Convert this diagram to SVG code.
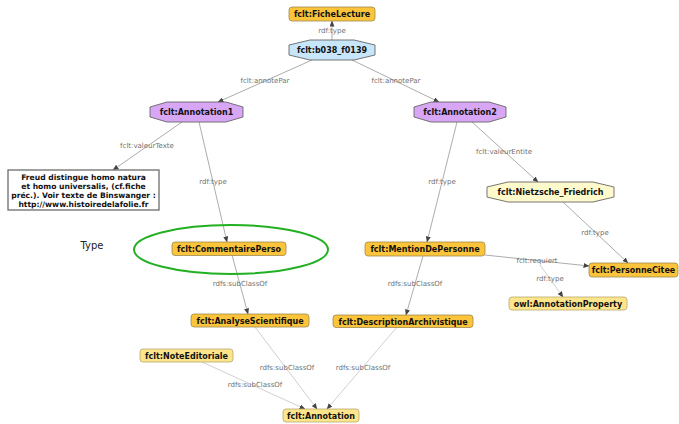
<svg xmlns="http://www.w3.org/2000/svg" width="679" height="424" viewBox="0 0 679 424">
<style>
.nt{font-family:"DejaVu Sans",sans-serif;font-size:8px;font-weight:bold;fill:#111;text-anchor:middle}
.tx{font-family:"DejaVu Sans",sans-serif;font-size:7.6px;font-weight:bold;fill:#111;text-anchor:middle}
.lb{font-family:"DejaVu Sans",sans-serif;font-size:7px;fill:#707070;text-anchor:middle}
.e{stroke:#888;stroke-width:0.7;fill:none;marker-end:url(#ah)}
.el{stroke:#bbb;stroke-width:0.7;fill:none;marker-end:url(#ah)}
.or{fill:#fbc43a;stroke:#a08a50;stroke-width:0.8}
.ly{fill:#fde58c;stroke:#b8a870;stroke-width:0.8}
.oct{stroke:#666;stroke-width:0.9}
</style>
<defs>
<marker id="ah" markerUnits="userSpaceOnUse" markerWidth="6" markerHeight="5" refX="5.5" refY="2.5" orient="auto">
<path d="M0,0 L6,2.5 L0,5 z" fill="#444"/>
</marker>
</defs>
<rect width="679" height="424" fill="#fff"/>
<g id="connectors">
<line class="e" x1="332" y1="40" x2="332" y2="21"/>
<text class="lb" x="332" y="33">rdf:type</text>
<line class="e" x1="312" y1="60" x2="218" y2="102"/>
<text class="lb" x="265" y="83">fclt:annotePar</text>
<line class="e" x1="352" y1="60" x2="439" y2="102"/>
<text class="lb" x="396" y="83">fclt:annotePar</text>
<line class="e" x1="182" y1="122" x2="113" y2="170"/>
<text class="lb" x="147" y="148">fclt:valeurTexte</text>
<line class="e" x1="199" y1="122" x2="227" y2="242"/>
<text class="lb" x="213" y="184">rdf:type</text>
<line class="e" x1="457" y1="122" x2="427" y2="242"/>
<text class="lb" x="442" y="184">rdf:type</text>
<line class="e" x1="472" y1="122" x2="538" y2="182"/>
<text class="lb" x="504" y="154">fclt:valeurEntite</text>
<line class="e" x1="563" y1="202" x2="628" y2="263"/>
<text class="lb" x="595" y="235">rdf:type</text>
<line class="e" x1="485" y1="255" x2="589" y2="266"/>
<text class="lb" x="537" y="263">fclt:requiert</text>
<line class="el" x1="540" y1="265" x2="563" y2="297"/>
<text class="lb" x="550" y="281">rdf:type</text>
<line class="e" x1="232" y1="255" x2="248" y2="314"/>
<text class="lb" x="240" y="286">rdfs:subClassOf</text>
<line class="e" x1="423" y1="256" x2="406" y2="315"/>
<text class="lb" x="415" y="286">rdfs:subClassOf</text>
<line class="el" x1="255" y1="327" x2="317" y2="409"/>
<text class="lb" x="287" y="370">rdfs:subClassOf</text>
<line class="el" x1="397" y1="327" x2="327" y2="409"/>
<text class="lb" x="363" y="370">rdfs:subClassOf</text>
<line class="el" x1="202" y1="362" x2="305" y2="409"/>
<text class="lb" x="255" y="387">rdfs:subClassOf</text>
</g>
<g id="type-label">
<text x="92" y="249" style="font-family:'DejaVu Sans',sans-serif;font-size:10px;fill:#222;text-anchor:middle">Type</text>
<ellipse cx="231" cy="249.5" rx="97" ry="24.5" fill="none" stroke="#22b022" stroke-width="2"/>
</g>
<g id="n-fichelecture">
<rect class="or" x="289" y="7" width="86" height="14" rx="3"/>
<text class="nt" x="332" y="17">fclt:FicheLecture</text>
</g>
<g id="n-b038">
<polygon class="oct" fill="#c8e6fa" points="310,40 354,40 375,45 375,55 354,60 310,60 289,55 289,45"/>
<text class="nt" x="332" y="53">fclt:b038_f0139</text>
</g>
<g id="n-annotation1">
<polygon class="oct" fill="#d7a6f5" points="167,102 226,102 243,107 243,117 226,122 167,122 150,117 150,107"/>
<text class="nt" x="196.5" y="115">fclt:Annotation1</text>
</g>
<g id="n-annotation2">
<polygon class="oct" fill="#d7a6f5" points="431,102 489,102 506,107 506,117 489,122 431,122 414,117 414,107"/>
<text class="nt" x="460" y="115">fclt:Annotation2</text>
</g>
<g id="n-texte">
<rect x="8" y="170" width="151" height="40" fill="#fff" stroke="#777" stroke-width="1.4"/>
<text class="tx" x="83.5" y="180">Freud distingue homo natura</text>
<text class="tx" x="83.5" y="189">et homo universalis, (cf.fiche</text>
<text class="tx" x="83.5" y="198">préc.). Voir texte de Binswanger :</text>
<text class="tx" x="83.5" y="207">http://www.histoiredelafolie.fr</text>
</g>
<g id="n-nietzsche">
<polygon class="oct" fill="#fffacc" points="508,182 593,182 614,187 614,197 593,202 508,202 487,197 487,187"/>
<text class="nt" x="550.5" y="195">fclt:Nietzsche_Friedrich</text>
</g>
<g id="n-commentaire">
<rect class="or" x="172" y="242" width="114" height="13.5" rx="3"/>
<text class="nt" x="229" y="251.8">fclt:CommentairePerso</text>
</g>
<g id="n-mention">
<rect class="or" x="365" y="242" width="120" height="14" rx="3"/>
<text class="nt" x="425" y="252">fclt:MentionDePersonne</text>
</g>
<g id="n-personnecitee">
<rect class="or" x="589" y="263" width="89" height="14" rx="3"/>
<text class="nt" x="633.5" y="273">fclt:PersonneCitee</text>
</g>
<g id="n-annotationproperty">
<rect class="ly" x="509" y="297" width="118" height="13" rx="3"/>
<text class="nt" x="568" y="306.8">owl:AnnotationProperty</text>
</g>
<g id="n-analyse">
<rect class="or" x="191" y="314" width="118" height="13" rx="3"/>
<text class="nt" x="250" y="323.8">fclt:AnalyseScientifique</text>
</g>
<g id="n-description">
<rect class="or" x="333" y="315" width="140" height="12.5" rx="3"/>
<text class="nt" x="403" y="324.5">fclt:DescriptionArchivistique</text>
</g>
<g id="n-noteeditoriale">
<rect class="ly" x="140" y="349" width="93" height="13" rx="3"/>
<text class="nt" x="186.5" y="358.8">fclt:NoteEditoriale</text>
</g>
<g id="n-annotation">
<rect class="ly" x="283" y="409" width="76" height="13" rx="3"/>
<text class="nt" x="321" y="418.8">fclt:Annotation</text>
</g>
</svg>
